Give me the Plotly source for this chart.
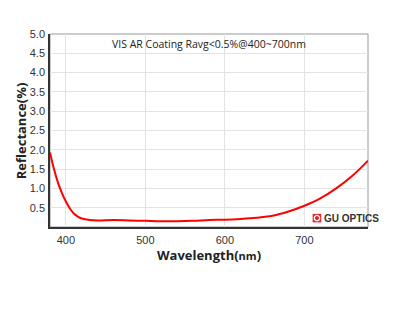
import plotly.graph_objects as go

wavelength = [380, 385, 390, 395, 400, 405, 410, 415, 420, 430, 440, 460, 480, 500,
              520, 540, 560, 580, 600, 620, 640, 660, 680, 700, 720, 740, 760, 780]
reflectance = [1.93, 1.50, 1.15, 0.88, 0.66, 0.48, 0.35, 0.27, 0.22, 0.18, 0.17, 0.18, 0.17, 0.16,
               0.15, 0.15, 0.16, 0.18, 0.19, 0.21, 0.24, 0.29, 0.40, 0.55, 0.74, 1.00, 1.32, 1.72]
x_ticks = [400, 500, 600, 700]
y_ticks = [0.5, 1.0, 1.5, 2.0, 2.5, 3.0, 3.5, 4.0, 4.5, 5.0]
title_text = "VIS AR Coating Ravg<0.5%@400~700nm"

fig = go.Figure()
fig.add_trace(go.Scatter(x=wavelength, y=reflectance, mode="lines",
                         line=dict(color="#ff0000", width=2, shape="spline", smoothing=1.0),
                         showlegend=False, hoverinfo="skip"))

fig.update_layout(
    width=403, height=321,
    margin=dict(l=50, r=35, t=34, b=94),
    paper_bgcolor="white", plot_bgcolor="white",
    font=dict(family="Liberation Sans, Arial", size=11, color="#333"),
    xaxis=dict(range=[380, 780], tickvals=x_ticks, ticks="", showgrid=True,
               gridcolor="#e3e3e3", gridwidth=1, zeroline=False,
               showline=True, linecolor="#333", linewidth=1.5,
               tickfont=dict(size=11, color="#333"), ticklabelstandoff=2,
               title=dict(text="<b>Wavelength(<span style='font-size:11px'>nm</span>)</b>",
                          font=dict(family="Open Sans", size=13, color="#222"), standoff=6)),
    yaxis=dict(range=[0, 5], tickvals=y_ticks, tickformat=".1f", ticks="", showgrid=True,
               gridcolor="#e3e3e3", gridwidth=1, zeroline=False,
               showline=True, linecolor="#333", linewidth=1.5,
               tickfont=dict(size=11, color="#333"), ticklabelstandoff=1),
    shapes=[
        dict(type="rect", xref="paper", yref="paper", x0=0, x1=1, y0=0, y1=1,
             line=dict(color="#999", width=1), layer="below"),
        dict(type="rect", xref="paper", yref="paper", x0=0.826, x1=0.853, y0=0.024, y1=0.068,
             line=dict(width=0), fillcolor="#e8202a", layer="above"),
        dict(type="circle", xref="paper", yref="paper", x0=0.831, x1=0.848, y0=0.032, y1=0.060,
             line=dict(color="white", width=1.2), fillcolor="#e8202a", layer="above"),
    ],
    annotations=[
        dict(text=title_text, xref="paper", yref="paper", x=0.5, y=0.995, xanchor="center",
             yanchor="top", showarrow=False,
             font=dict(family="Open Sans", size=10.5, color="#222")),
        dict(text="<b>Reflectance(%)</b>", xref="paper", yref="paper", x=-0.092, y=0.5,
             xanchor="center", yanchor="middle", textangle=-90, showarrow=False,
             font=dict(family="Open Sans", size=13, color="#222")),
        dict(text="<b>GU OPTICS</b>", xref="paper", yref="paper",
             x=0.855, y=0.046, xanchor="left", yanchor="middle", showarrow=False,
             font=dict(family="Liberation Sans, Arial", size=10, color="#333")),
    ],
)

fig.write_html("out.html")
